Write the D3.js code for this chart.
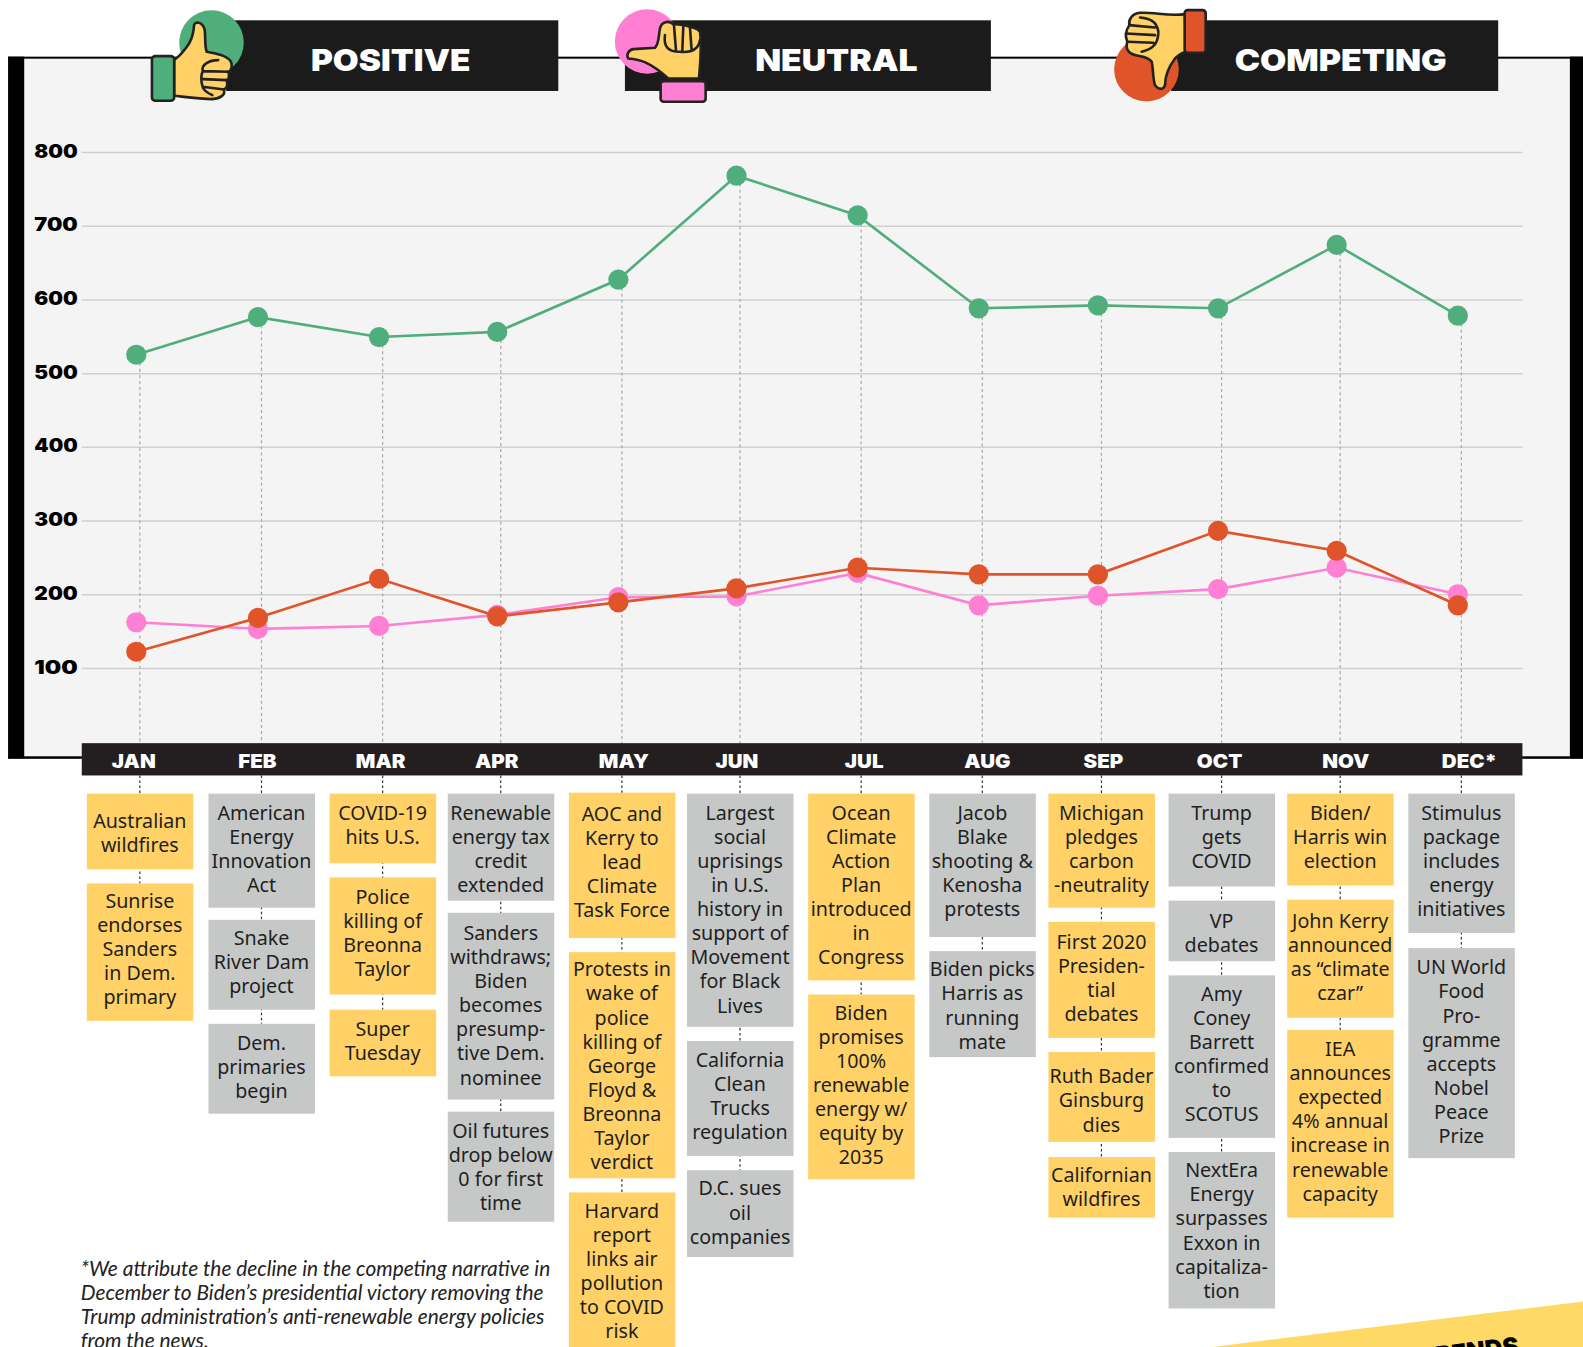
<!DOCTYPE html>
<html><head><meta charset="utf-8">
<script src="https://cdn.jsdelivr.net/npm/d3@7"></script>
<style>
html,body{margin:0;padding:0;background:#fff;overflow:hidden}
svg{display:block}
.heavy{font-family:Inter,"Open Sans",sans-serif;font-weight:900}
.body{font-family:"Noto Sans",sans-serif;font-weight:400}
.note{font-family:"Lato",sans-serif;font-style:italic}
</style></head><body><svg id="c"></svg>
<script>
const months=["JAN","FEB","MAR","APR","MAY","JUN","JUL","AUG","SEP","OCT","NOV","DEC*"];
const positive=[525,576,549,556,627,768,714,588,592,588,674,578];
const neutral=[162,153,157,172,196,197,229,185,198,207,236,200];
const competing=[122,168,221,170,189,208,236,227,227,286,259,185];
const yTicks=[100,200,300,400,500,600,700,800];
const headers=["POSITIVE","NEUTRAL","COMPETING"];
const footnote=["*We attribute the decline in the competing narrative in","December to Biden’s presidential victory removing the","Trump administration’s anti-renewable energy policies","from the news."];
const eventText=[
[["Australian","wildfires"],["Sunrise","endorses","Sanders","in Dem.","primary"]],
[["American","Energy","Innovation","Act"],["Snake","River Dam","project"],["Dem.","primaries","begin"]],
[["COVID-19","hits U.S."],["Police","killing of","Breonna","Taylor"],["Super","Tuesday"]],
[["Renewable","energy tax","credit","extended"],["Sanders","withdraws;","Biden","becomes","presump-","tive Dem.","nominee"],["Oil futures","drop below","0 for first","time"]],
[["AOC and","Kerry to","lead","Climate","Task Force"],["Protests in","wake of","police","killing of","George","Floyd &","Breonna","Taylor","verdict"],["Harvard","report","links air","pollution","to COVID","risk"]],
[["Largest","social","uprisings","in U.S.","history in","support of","Movement","for Black","Lives"],["California","Clean","Trucks","regulation"],["D.C. sues","oil","companies"]],
[["Ocean","Climate","Action","Plan","introduced","in","Congress"],["Biden","promises","100%","renewable","energy w/","equity by","2035"]],
[["Jacob","Blake","shooting &","Kenosha","protests"],["Biden picks","Harris as","running","mate"]],
[["Michigan","pledges","carbon","-neutrality"],["First 2020","Presiden-","tial","debates"],["Ruth Bader","Ginsburg","dies"],["Californian","wildfires"]],
[["Trump","gets","COVID"],["VP","debates"],["Amy","Coney","Barrett","confirmed","to","SCOTUS"],["NextEra","Energy","surpasses","Exxon in","capitaliza-","tion"]],
[["Biden/","Harris win","election"],["John Kerry","announced","as “climate","czar”"],["IEA","announces","expected","4% annual","increase in","renewable","capacity"]],
[["Stimulus","package","includes","energy","initiatives"],["UN World","Food","Pro-","gramme","accepts","Nobel","Peace","Prize"]]
];
/* layout only: [top, bottom, first text line centre] per box */
const boxLayout=[
[[786,861,813],[875,1011,892]],
[[786,899,805],[911,1000,929],[1014,1103,1033]],
[[786,855,805],[869,985,888],[1000,1066,1019]],
[[786,892,805],[904,1089,924],[1101,1210,1120]],
[[785,929,806],[943,1167,960],[1181,1340,1199]],
[[786,1017,805],[1031,1145,1050],[1159,1245,1177]],
[[786,971,805],[985,1168,1003]],
[[786,928,805],[942,1047,960]],
[[786,899,805],[913,1028,933],[1042,1131,1066],[1146,1206,1164]],
[[786,878,805],[892,952,912],[966,1127,984],[1141,1296,1159]],
[[786,877,805],[891,1008,912],[1020,1206,1039]],
[[786,924,805],[939,1147,958]]
];
const columnKind=["y","g","y","g","y","g","y","g","y","g","y","g"];
const columnNudge=[0,1.5,2.5,.5,1.5,-.5,.5,1.5,.5,.5,-1,0];
const labelNudge=[-6,-4,-2,-4,2,-3,3,5,2,-2,5.5,8];

const colors={positive:"#50ad7c",neutral:"#ff7fd3",competing:"#e0542a",y:"#ffd166",g:"#c6c8c8",dark:"#1b1b1b"};
const W=1568,H=1334;
const svg=d3.select("#c").attr("width",1583).attr("height",1347).attr("viewBox",`0 0 ${W} ${H}`);

const xBase=d3.scalePoint().domain(months).range([138.5,1447.5]);
const x=m=>xBase(m)+columnNudge[months.indexOf(m)];
const pointX=m=>x(m)-3.5;
const y=d3.scaleLinear().domain([100,800]).range([661.5,150.5]);

// panel
svg.append("rect").attr("x",24).attr("y",57).attr("width",1531).attr("height",692).attr("fill","#f4f4f4");
svg.append("rect").attr("x",8).attr("y",56).attr("width",1560).attr("height",2).attr("fill","#000");
svg.append("rect").attr("x",8).attr("y",56).attr("width",16).attr("height",695).attr("fill","#000");
svg.append("rect").attr("x",1555).attr("y",56).attr("width",13).attr("height",695).attr("fill","#000");
svg.append("rect").attr("x",8).attr("y",749).attr("width",1560).attr("height",2.5).attr("fill","#000");

// grid + y labels
const axis=d3.axisLeft(y).tickValues(yTicks).tickSize(-(1508-81)).tickPadding(9);
const gA=svg.append("g").attr("transform","translate(81,0)").call(axis);
gA.select(".domain").remove();
gA.selectAll("line").attr("stroke","#d0d0d0").attr("stroke-width",1.5);
gA.selectAll("text").attr("class","heavy").attr("font-size",18.5).attr("fill","#000")
  .attr("text-anchor","start").attr("x",-47).attr("y",-0.5).attr("dy","0.3em")
  .attr("textLength",43).attr("lengthAdjust","spacingAndGlyphs");

// connectors
months.forEach((m,i)=>{
  svg.append("line").attr("x1",x(m)).attr("x2",x(m)).attr("y1",y(positive[i])+8).attr("y2",737)
    .attr("stroke","#a9a9a9").attr("stroke-width",1.2).attr("stroke-dasharray","3 3");
  const last=boxLayout[i][boxLayout[i].length-1];
  svg.append("line").attr("x1",x(m)).attr("x2",x(m)).attr("y1",768).attr("y2",last[0])
    .attr("stroke","#333").attr("stroke-width",1.2).attr("stroke-dasharray","2.5 2.5");
});

// series
const line=d3.line().x((d,i)=>pointX(months[i])).y(d=>y(d));
[["positive",positive],["neutral",neutral],["competing",competing]].forEach(([k,v])=>{
  svg.append("path").attr("d",line(v)).attr("fill","none").attr("stroke",colors[k]).attr("stroke-width",2.6);
  svg.append("g").selectAll("circle").data(v).join("circle")
    .attr("cx",(d,i)=>pointX(months[i])).attr("cy",d=>y(d)).attr("r",10).attr("fill",colors[k]);
});

// month band
svg.append("rect").attr("x",81).attr("y",736).attr("width",1427).attr("height",32).attr("fill","#231f20");
svg.append("g").selectAll("text").data(months).join("text").attr("class","heavy")
  .attr("x",(d,i)=>xBase(d)+columnNudge[i]+labelNudge[i]).attr("y",760.5).attr("text-anchor","middle")
  .attr("font-size",18.5).attr("fill","#fff").text(d=>d)
  .each(function(){ d3.select(this).attr("textLength",this.getComputedTextLength()*1.1).attr("lengthAdjust","spacingAndGlyphs"); });

// event boxes
months.forEach((m,i)=>{
  eventText[i].forEach((lines,j)=>{
    const [t,b,c]=boxLayout[i][j];
    svg.append("rect").attr("x",x(m)-52.5).attr("y",t).attr("width",105.5).attr("height",b-t).attr("fill",colors[columnKind[i]]);
    svg.append("g").selectAll("text").data(lines).join("text").attr("class","body")
      .attr("x",x(m)).attr("y",(d,k)=>c+k*23.85).attr("dy","0.36em").attr("text-anchor","middle")
      .attr("font-size",19.5).attr("fill","#1f1f1f").text(d=>d);
  });
});

// footnote
svg.append("g").selectAll("text").data(footnote).join("text").attr("class","note")
  .attr("x",80).attr("y",(d,i)=>1264+i*23.7).attr("font-size",20.7).attr("fill","#222").text(d=>d);

// wedge
svg.append("path").attr("d",`M1201,${H} L${W},1289 L${W},${H} Z`).attr("fill","#ffd966");
svg.append("text").attr("class","heavy").attr("transform","translate(1505,1341) rotate(-7)")
  .attr("text-anchor","end").attr("font-size",24).attr("fill","#000").text("TRENDS");

// headers
const bars=[[224,553,[209.5,42],colors.positive,308,466],[619,981.5,[641,41],colors.neutral,748,909],[1160,1484,[1135.6,68.5],colors.competing,1223,1433]];
bars.forEach((b,i)=>{
  svg.append("rect").attr("x",b[0]).attr("y",20).attr("width",b[1]-b[0]).attr("height",70).attr("fill",colors.dark);
  svg.append("circle").attr("cx",b[2][0]).attr("cy",b[2][1]).attr("r",32).attr("fill",b[3]);
  svg.append("text").attr("class","heavy").attr("x",b[4]).attr("y",70).attr("font-size",30).attr("fill","#fff")
    .attr("textLength",b[5]-b[4]).attr("lengthAdjust","spacingAndGlyphs").text(headers[i]);
});

// hands
const ink="#222", skin="#ffd166";
function hand(tf,cuff,cuffColor,outline,detail){
  const g=svg.append("g").attr("transform",tf);
  g.append("path").attr("d",outline).attr("fill",skin).attr("stroke",ink).attr("stroke-width",2.6).attr("vector-effect","non-scaling-stroke");
  g.append("path").attr("d",detail).attr("fill","none").attr("stroke",ink).attr("stroke-width",2.6).attr("stroke-linecap","round").attr("vector-effect","non-scaling-stroke");
  g.append("rect").attr("x",cuff[0]).attr("y",cuff[1]).attr("width",cuff[2]).attr("height",cuff[3]).attr("rx",9).attr("fill",cuffColor).attr("stroke",ink).attr("stroke-width",2.6).attr("vector-effect","non-scaling-stroke");
}
hand("scale(0.3791,0.3301)",[397,168,58,134],colors.positive,
 "M455 180 L470 165 C490 140 505 120 507 75 C510 62 530 65 535 90 C537 120 535 140 540 155 C560 160 600 165 605 190 C607 205 600 215 597 215 C600 230 597 240 592 240 C597 255 592 265 585 268 C590 285 575 295 555 297 C520 297 480 290 455 287 Z",
 "M570 180 C545 180 525 195 530 212 C525 225 525 245 530 262 C535 275 545 280 555 285 M530 213 L597 215 M530 237 L592 240 M530 260 L585 268");
hand("translate(594.3,0) scale(0.3301)",[182,243,135,62],colors.neutral,
 "M205 235 L297 235 C302 180 305 130 300 95 C290 80 280 85 270 80 C250 72 230 72 220 72 C205 60 185 65 180 85 C175 110 178 130 165 143 L100 147 C85 150 78 165 85 175 C120 178 150 185 205 235 Z",
 "M195 105 C190 140 205 155 240 155 C270 158 295 150 300 120 M222 75 L228 150 M250 80 L247 152 M270 82 L275 150");
hand("translate(1079.7,0) scale(0.3301)",[284,30,63,128],colors.competing,
 "M285 42 C240 50 190 35 150 38 C125 40 115 60 118 75 C108 90 105 110 112 125 C105 145 115 160 135 165 C155 170 175 170 185 185 C190 205 188 235 195 255 C205 270 222 270 225 255 C225 220 240 195 255 175 C270 160 285 155 288 155 Z",
 "M150 52 C175 55 200 60 205 95 C205 125 195 145 155 155 M118 75 L195 82 M108 100 L195 105 M112 125 L190 128");
</script></body></html>
